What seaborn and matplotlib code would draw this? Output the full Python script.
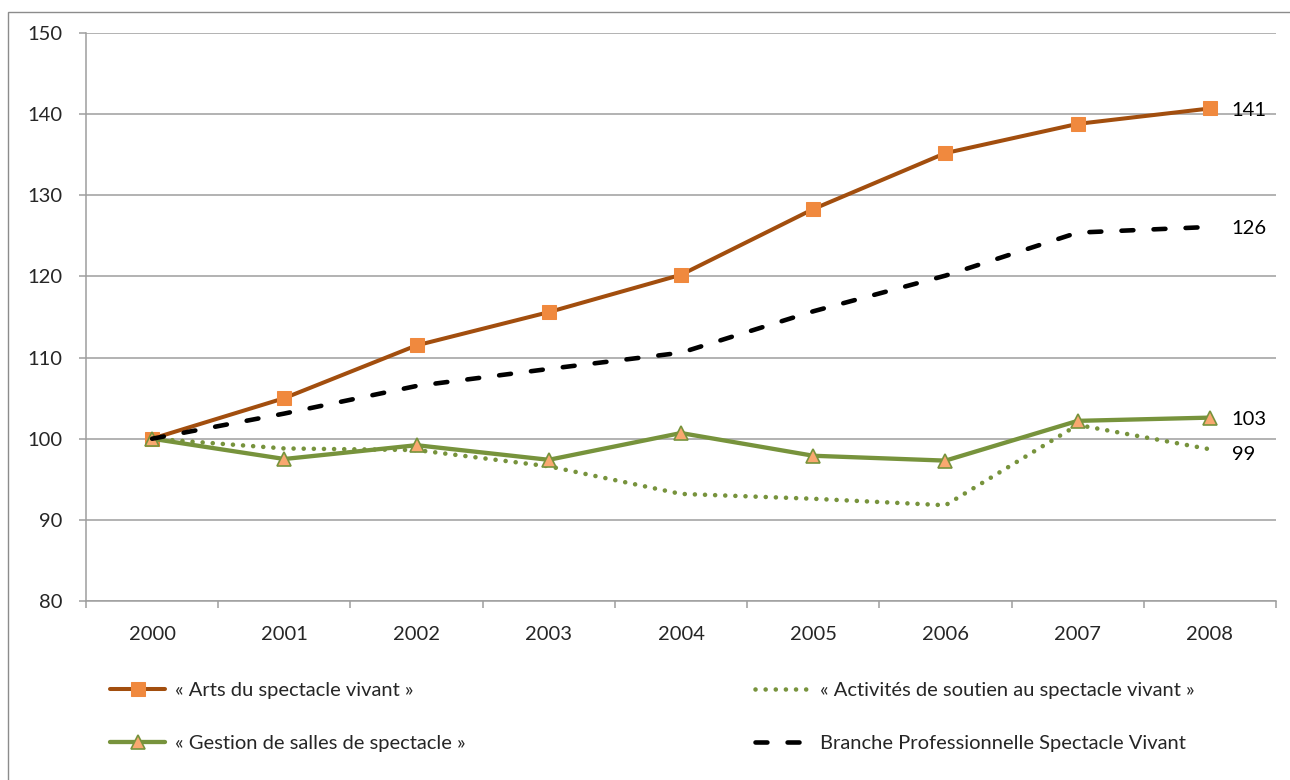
import pandas as pd
import numpy as np
import matplotlib.pyplot as plt
import seaborn as sns
from matplotlib.patches import Rectangle
from matplotlib.ticker import FixedLocator, MultipleLocator

# Data (index base 100 en 2000)
years = [2000, 2001, 2002, 2003, 2004, 2005, 2006, 2007, 2008]
arts = [100, 105.0, 111.5, 115.6, 120.2, 128.3, 135.2, 138.8, 140.7]
activites = [100, 98.8, 98.6, 96.6, 93.2, 92.6, 91.8, 101.7, 98.7]
gestion = [100, 97.5, 99.2, 97.4, 100.7, 97.9, 97.3, 102.2, 102.6]
branche = [100, 103.1, 106.5, 108.6, 110.6, 115.7, 120.1, 125.4, 126.1]

labels = ["« Arts du spectacle vivant »",
          "« Activités de soutien au spectacle vivant »",
          "« Gestion de salles de spectacle »",
          "Branche Professionnelle Spectacle Vivant"]

sns.set_style("white")
plt.rcParams['font.family'] = ['Lato', 'DejaVu Sans']
FS = 14.5
GRID = '#9E9E9E'

fig = plt.figure(figsize=(12.9, 7.8), dpi=100)
ax = fig.add_axes([86 / 1290, 1 - 601 / 780, (1276 - 86) / 1290, (601 - 33) / 780])

# outer chart border
fig.patches.append(Rectangle((8 / 1290, -0.1), 1.2, 1.1 - 12 / 780, transform=fig.transFigure,
                             fill=False, edgecolor='#8C8C8C', lw=1.0, zorder=0))

sns.lineplot(x=years, y=arts, ax=ax, color='#A24E0E', lw=2.9, marker='s', markersize=9.5,
             markerfacecolor='#F0893E', markeredgecolor='#F0893E', label=labels[0])
sns.lineplot(x=years, y=activites, ax=ax, color='#77933C', lw=3.3, linestyle=(0, (0.01, 2.2)),
             dash_capstyle='round', label=labels[1])
sns.lineplot(x=years, y=gestion, ax=ax, color='#77933C', lw=3.1, marker='^', markersize=9.5,
             markerfacecolor='#F9A870', markeredgecolor='#77933C', markeredgewidth=1.2,
             label=labels[2])
sns.lineplot(x=years, y=branche, ax=ax, color='black', lw=3.3, linestyle=(0, (2.6, 4.4)),
             dash_capstyle='round', label=labels[3])

if ax.get_legend() is not None:
    ax.get_legend().remove()

# end-of-line value labels
for series in [arts, branche, gestion, activites]:
    dy = -0.5 if series is activites else 0
    ax.text(years[-1] + 0.165, series[-1] + dy - 0.2, f"{round(series[-1])}",
            fontsize=FS, va='center', ha='left', color='black')

ax.set_xlim(1999.5, 2008.5)
ax.set_ylim(80, 150)
ax.xaxis.set_major_locator(FixedLocator(years))
ax.set_xticklabels([str(y) for y in years])
ax.xaxis.set_minor_locator(FixedLocator(np.arange(1999.5, 2009, 1.0)))
ax.yaxis.set_major_locator(MultipleLocator(10))

ax.grid(axis='y', color=GRID, lw=1.1)
ax.grid(axis='x', visible=False)
for s in ['top', 'right']:
    ax.spines[s].set_visible(False)
for s in ['left', 'bottom']:
    ax.spines[s].set_color(GRID)
    ax.spines[s].set_linewidth(1.1)

ax.tick_params(axis='x', which='major', length=0, pad=18, labelsize=FS)
ax.tick_params(axis='x', which='minor', direction='out', length=5, color=GRID, width=1.1, bottom=True)
ax.tick_params(axis='y', direction='out', length=5, color=GRID, width=1.1, pad=12, labelsize=FS, left=True)
ax.set_xlabel('')
ax.set_ylabel('')

lines = ax.get_lines()
h = {ln.get_label(): ln for ln in lines}
leg_kw = dict(frameon=False, fontsize=FS, handlelength=2.75, handletextpad=0.5,
              labelspacing=1.75, borderpad=0, borderaxespad=0, loc='center left')
leg1 = fig.legend([h[labels[0]], h[labels[2]]], [labels[0], labels[2]],
                  bbox_to_anchor=(110 / 1290, 1 - 717 / 780), **leg_kw)
leg2 = fig.legend([h[labels[1]], h[labels[3]]], [labels[1], labels[3]],
                  bbox_to_anchor=(755 / 1290, 1 - 717 / 780), **leg_kw)

fig.savefig('out.png', dpi=100)
